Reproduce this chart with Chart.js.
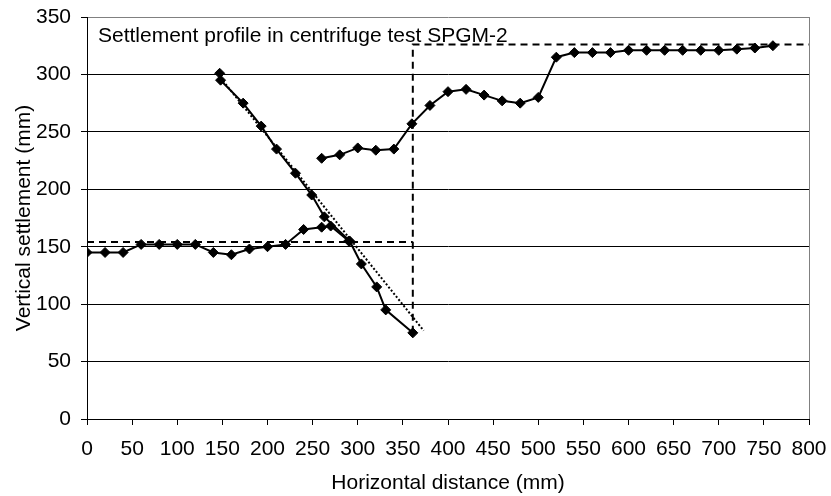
<!DOCTYPE html>
<html>
<head>
<meta charset="utf-8">
<script src="https://cdn.jsdelivr.net/npm/chart.js@4/dist/chart.umd.min.js"></script>
<style>
  html, body { margin: 0; padding: 0; background: #fff; }
  #wrap { width: 831px; height: 496px; }
</style>
</head>
<body>
<div id="wrap"><canvas id="settlement" width="831" height="496"></canvas></div>
<script>
// lower profile (left part, before the slope)
var lowerX = [0, 20, 40, 60, 80, 100, 120, 140, 160, 180, 200, 220, 240, 260, 270, 290];
var lowerY = [145, 145, 145, 152, 152, 152, 152, 145, 143, 148, 150, 152, 165, 167, 168, 155];

// descending slope profile
var slopeX = [147, 148, 173, 193, 210, 231, 249, 263, 291, 304, 321, 331, 361];
var slopeY = [301, 295, 275, 255, 235, 214, 195, 176, 155, 135, 115, 95, 75];

// upper profile (right part)
var upperX = [260, 280, 300, 320, 340, 360, 380, 400, 420, 440, 460, 480, 500,
              520, 540, 560, 580, 600, 620, 640, 660, 680, 700, 720, 740, 760];
var upperY = [227, 230, 236, 234, 235, 257, 273, 285, 287, 282, 277, 275, 280,
              315, 319, 319, 319, 321, 321, 321, 321, 321, 321, 322, 323, 325];

// dotted trend of the slope
var trendX = [148, 373];
var trendY = [297, 77];

// dashed reference levels
var levelLowX = [0, 361];
var levelLowY = [154, 154];
var levelHighX = [361, 361, 800];
var levelHighY = [75, 326, 326];

var xTicks = [0, 800, 50];   // min, max, step
var yTicks = [0, 350, 50];

var chartTitle = 'Settlement profile in centrifuge test SPGM-2';
var xTitle = 'Horizontal distance (mm)';
var yTitle = 'Vertical settlement (mm)';

var FONT = '"Liberation Sans", Arial, sans-serif';

function pts(xs, ys) {
    return xs.map(function (x, i) { return { x: x, y: ys[i] }; });
}

// title written inside the plot area, top left
var innerTitle = {
    id: 'innerTitle',
    afterDraw: function (chart) {
        var ctx = chart.ctx;
        var a = chart.chartArea;
        ctx.save();
        ctx.font = '21px ' + FONT;
        ctx.fillStyle = '#000';
        ctx.textBaseline = 'alphabetic';
        ctx.fillText(chartTitle, a.left + 11, a.top + 25);
        ctx.restore();
    }
};

var marker = {
    pointStyle: 'rectRot',
    pointRadius: 5,
    pointHoverRadius: 5,
    pointBackgroundColor: '#000',
    pointBorderColor: '#000',
    pointBorderWidth: 1
};

function profile(label, xs, ys) {
    return Object.assign({
        label: label,
        data: pts(xs, ys),
        showLine: true,
        borderColor: '#000',
        borderWidth: 2,
        tension: 0
    }, marker);
}

function plainLine(label, xs, ys, dash) {
    return {
        label: label,
        data: pts(xs, ys),
        showLine: true,
        borderColor: '#000',
        borderWidth: 2,
        borderDash: dash,
        pointRadius: 0,
        pointHoverRadius: 0,
        tension: 0
    };
}

new Chart(document.getElementById('settlement'), {
    type: 'scatter',
    data: {
        datasets: [
            plainLine('level low', levelLowX, levelLowY, [7, 5]),
            plainLine('level high', levelHighX, levelHighY, [7, 5]),
            plainLine('trend', trendX, trendY, [2, 2]),
            profile('lower', lowerX, lowerY),
            profile('slope', slopeX, slopeY),
            profile('upper', upperX, upperY)
        ]
    },
    options: {
        responsive: false,
        animation: false,
        layout: { padding: { top: 17, right: 22, left: 0, bottom: 0 } },
        plugins: {
            legend: { display: false },
            tooltip: { enabled: false }
        },
        scales: {
            x: {
                type: 'linear',
                min: xTicks[0],
                max: xTicks[1],
                afterFit: function (s) {
                    s.height = 77;
                    s.paddingLeft = 0;
                    s.paddingRight = 0;
                },
                ticks: {
                    stepSize: xTicks[2],
                    color: '#000',
                    padding: 12,
                    maxRotation: 0,
                    font: { family: FONT, size: 21 }
                },
                grid: {
                    color: function (c) { return c.tick && c.tick.value === 800 ? '#808080' : 'rgba(0,0,0,0)'; },
                    tickColor: '#000',
                    tickLength: 6,
                    lineWidth: 1
                },
                border: { color: '#000', width: 1 },
                title: {
                    display: true,
                    text: xTitle,
                    color: '#000',
                    font: { family: FONT, size: 21 },
                    padding: { top: 0, bottom: 0 }
                }
            },
            y: {
                type: 'linear',
                min: yTicks[0],
                max: yTicks[1],
                afterFit: function (s) {
                    s.width = 87;
                    s.paddingTop = 0;
                    s.paddingBottom = 0;
                },
                ticks: {
                    stepSize: yTicks[2],
                    color: '#000',
                    padding: 10,
                    font: { family: FONT, size: 21 }
                },
                grid: {
                    color: function (c) { return c.tick && c.tick.value === 350 ? '#808080' : '#000'; },
                    tickColor: '#000',
                    tickLength: 6,
                    lineWidth: 1
                },
                border: { color: '#000', width: 1 },
                title: {
                    display: true,
                    text: yTitle,
                    color: '#000',
                    font: { family: FONT, size: 21 },
                    padding: { top: 12, bottom: 0 }
                }
            }
        }
    },
    plugins: [innerTitle]
});
</script>
</body>
</html>
